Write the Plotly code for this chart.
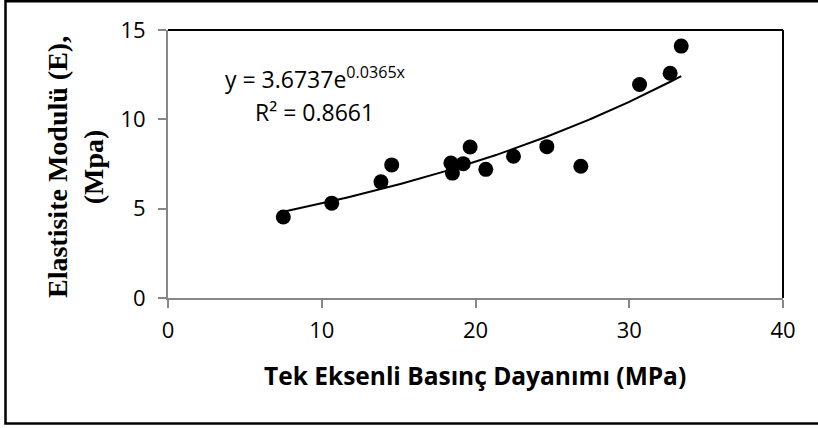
import numpy as np
import plotly.graph_objects as go

# Data
ucs_mpa = [7.5, 10.65, 13.85, 14.55, 18.4, 18.5, 19.2, 19.65, 20.67, 22.47, 24.64, 26.85, 30.67, 32.66, 33.38]
e_mpa = [4.53, 5.31, 6.5, 7.45, 7.56, 6.99, 7.52, 8.45, 7.2, 7.93, 8.47, 7.37, 11.95, 12.58, 14.1]

# Exponential trendline coefficients (from the chart label)
trend_a = 3.6737
trend_b = 0.0365
equation_text = "y = 3.6737e<sup>0.0365x</sup>"
r2_text = "R² = 0.8661"

x_title = "Tek Eksenli Basınç Dayanımı (MPa)"
y_title = "Elastisite Modulü (E),<br>(Mpa)"

W, H = 818, 428
L, R, T, B = 168, 35, 30, 130
PW, PH = W - L - R, H - T - B


def px(xp):
    return (xp - L) / PW


def py(yp):
    return (H - B - yp) / PH


tx = np.linspace(min(ucs_mpa), max(ucs_mpa), 200)
ty = trend_a * np.exp(trend_b * tx)

fig = go.Figure()
fig.add_trace(go.Scatter(x=tx, y=ty, mode="lines",
                         line=dict(color="black", width=2), hoverinfo="skip"))
fig.add_trace(go.Scatter(x=ucs_mpa, y=e_mpa, mode="markers",
                         marker=dict(color="black", size=15)))

axis_gray = "#878787"
tick_font = dict(family="Open Sans", size=22, color="black")

fig.update_layout(
    width=W, height=H,
    margin=dict(l=L, r=R, t=T, b=B, pad=0),
    paper_bgcolor="white", plot_bgcolor="white",
    showlegend=False,
    xaxis=dict(range=[0, 40], dtick=10, tick0=0, showgrid=False, zeroline=False,
               showline=True, linecolor=axis_gray, linewidth=2,
               ticks="outside", ticklen=8, tickwidth=2, tickcolor=axis_gray,
               tickfont=tick_font, ticklabelstandoff=4),
    yaxis=dict(range=[0, 15], dtick=5, tick0=0, showgrid=False, zeroline=False,
               showline=True, linecolor=axis_gray, linewidth=2,
               ticks="outside", ticklen=8, tickwidth=2, tickcolor=axis_gray,
               tickfont=tick_font, ticklabelstandoff=8),
    shapes=[
        dict(type="line", xref="paper", yref="paper", x0=0, x1=1, y0=1, y1=1,
             line=dict(color="black", width=2)),
        dict(type="line", xref="paper", yref="paper", x0=1, x1=1, y0=0, y1=1,
             line=dict(color="black", width=2)),
        dict(type="rect", xref="paper", yref="paper",
             x0=px(5.5), x1=px(830), y0=py(423.5), y1=py(1.3),
             line=dict(color="black", width=2.5)),
    ],
    annotations=[
        dict(text=x_title, xref="paper", yref="paper", x=px(474.5), y=py(375),
             xanchor="center", yanchor="middle", showarrow=False,
             font=dict(family="Open Sans", size=24.5, color="black", weight="bold")),
        dict(text=y_title, xref="paper", yref="paper", x=px(75), y=py(167),
             xanchor="center", yanchor="middle", showarrow=False, textangle=-90,
             font=dict(family="Liberation Serif", size=28, color="black", weight="bold")),
        dict(text=equation_text, xref="paper", yref="paper", x=px(223), y=py(78),
             xanchor="left", yanchor="middle", showarrow=False,
             font=dict(family="Open Sans", size=23, color="black")),
        dict(text=r2_text, xref="paper", yref="paper", x=px(253), y=py(112),
             xanchor="left", yanchor="middle", showarrow=False,
             font=dict(family="Open Sans", size=23, color="black")),
    ],
)

fig.write_html("out.html")
